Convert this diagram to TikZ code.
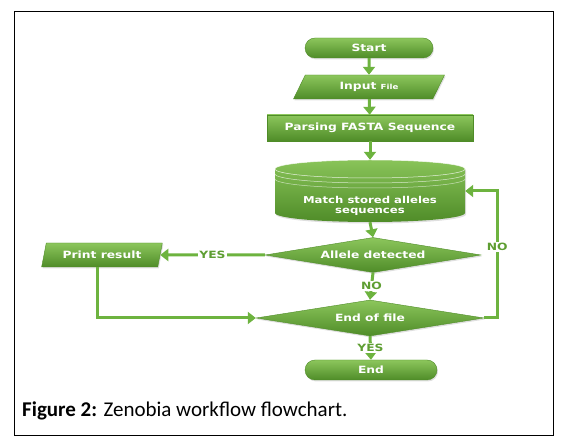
\documentclass[tikz,border=0pt]{standalone}
\usepackage{fontspec}
\setmainfont{Carlito}
\newfontfamily\boxfont[FakeStretch=1.23]{DejaVu Sans}
\usetikzlibrary{shapes.geometric,shapes.misc,arrows.meta,shadows}
\definecolor{gtop}{HTML}{8CC65C}
\definecolor{gmid}{HTML}{6AAB3C}
\definecolor{gbot}{HTML}{4F8C28}
\definecolor{garrow}{HTML}{6DB33F}
\definecolor{gtext}{HTML}{5E9E32}
\tikzset{
  box/.style={top color=gtop, bottom color=gbot, draw=gbot, line width=0.4pt,
    text=white, font=\boxfont\bfseries\fontsize{10}{11}\selectfont, inner sep=0pt,
    drop shadow={opacity=0.25, shadow xshift=1pt, shadow yshift=-1.5pt}},
  pill/.style={box, rounded rectangle},
  para/.style={box, trapezium, trapezium left angle=60, trapezium right angle=120, trapezium stretches=true},
  dia/.style={box, diamond},
  flow/.style={garrow, line width=3pt, -{Triangle[width=12pt,length=8pt]}},
  lab/.style={text=gtext, fill=white, inner sep=1pt, font=\boxfont\bfseries\fontsize{10}{10}\selectfont}
}
\begin{document}
\begin{tikzpicture}[x=1pt,y=1pt]
\useasboundingbox (0,0) rectangle (565,447);
\draw[line width=1pt] (14,11) rectangle (553,435);
% nodes
\node[pill, minimum width=128, minimum height=20] (start) at (369,399) {Start};
\node[para, minimum width=152, minimum height=24] (input) at (369,360) {Input {\fontsize{7}{7}\selectfont File}};
\node[box, rectangle, minimum width=206, minimum height=26] (parse) at (370,319) {Parsing FASTA Sequence};
% cylinder
\path[top color=gtop!90!gmid, bottom color=gbot, drop shadow={opacity=0.25, shadow xshift=1pt, shadow yshift=-1.5pt}]
  (275,278) -- (275,234) arc[start angle=180, end angle=360, x radius=95, y radius=9]
  -- (465,278) arc[start angle=0, end angle=180, x radius=95, y radius=9] -- cycle;
\draw[white, opacity=0.8, line width=0.5pt] (370,278) ellipse[x radius=95, y radius=9];
\draw[white, opacity=0.7, line width=0.5pt] (275,273) arc[start angle=180, end angle=360, x radius=95, y radius=9];
\draw[white, opacity=0.6, line width=0.5pt] (275,268) arc[start angle=180, end angle=360, x radius=95, y radius=9];
\node[minimum width=190, minimum height=62, inner sep=0pt] (cyl) at (370,256) {};
\node[text=white, align=center, font=\boxfont\bfseries\fontsize{9.5}{10}\selectfont] (cyltxt) at (370,241) {Match stored alleles\\sequences};
\node[dia, aspect=6.2, minimum width=216, minimum height=35] (allele) at (373,192) {Allele detected};
\node[dia, aspect=6.3, minimum width=228, minimum height=36] (eof) at (370,129) {End of file};
\node[pill, minimum width=132, minimum height=20] (end) at (371,77) {End};
\node[box, trapezium, trapezium left angle=67, trapezium right angle=113, trapezium stretches=true, minimum width=121, minimum height=24] (print) at (102,192) {Print result};
% connectors
\draw[flow] (start) -- (input);
\draw[flow] (input) -- (parse);
\draw[flow] (parse.south) -- (cyl.north);
\draw[flow] (cyl.south) -- (allele.north);
\draw[flow] (allele.south) -- node[lab] (no1) {NO} (eof.north);
\draw[flow] (eof.south) -- node[lab] (yes2) {YES} (end.north);
\draw[flow] (allele.west) -- node[lab] (yes1) {YES} (print.east);
\draw[flow] ([xshift=-5pt]print.south) |- (eof.west);
\draw[flow] (eof.east) -- ++(13,0) |- node[lab, pos=0.28] (no2) {NO} (cyl.east);
% caption
\node[anchor=west, inner sep=0pt, font=\fontsize{21}{24}\selectfont] (cap) at (22,36) {\textbf{Figure 2:} Zenobia workflow flowchart.};
\end{tikzpicture}
\end{document}
